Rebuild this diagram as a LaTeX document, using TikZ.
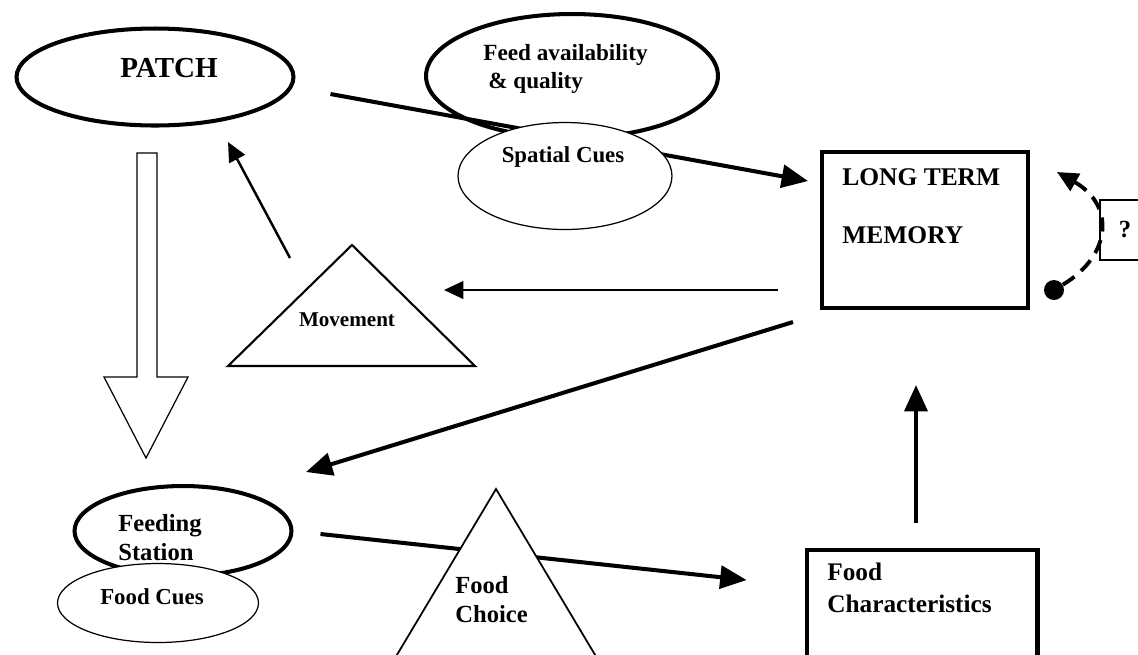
\documentclass[tikz,border=0pt]{standalone}
\usepackage{fontspec}
\setmainfont{Liberation Serif}
\usetikzlibrary{arrows.meta, positioning, calc, shapes.geometric}

\tikzset{
  thickline/.style={line width=2.3pt},
  thinline/.style={line width=0.7pt},
  bigarrow/.style={line width=2.3pt, -{Triangle[length=15pt, width=13pt]}},
  smallarrow/.style={line width=1.4pt, -{Triangle[length=11pt, width=10pt]}},
  lbl/.style={font=\bfseries\fontsize{14}{16.5}\selectfont, inner sep=0pt, align=left},
  oval/.style={ellipse, draw, inner sep=0pt, outer sep=0pt},
  box/.style={rectangle, draw, inner sep=0pt, outer sep=0pt},
}

\begin{document}
\begin{tikzpicture}[x=0.02cm, y=-0.02cm, >=Stealth]
  \useasboundingbox (0,0) rectangle (1138,654);

  % memory
  \node[box, line width=2.8pt, minimum width=4.12cm, minimum height=3.12cm] (ltm) at (925,230) {};
  \node[lbl, font=\bfseries\fontsize{14.5}{17}\selectfont, anchor=west] (ltmtxt) at (842,177) {LONG TERM};
  \node[lbl, font=\bfseries\fontsize{14.5}{17}\selectfont, anchor=west] (memtxt) at (842,235) {MEMORY};
  \node[box, thinline, minimum width=1cm, minimum height=1.2cm, lbl] (qbox) at (1125,230) {?};
  \node[circle, fill, inner sep=0pt, minimum size=0.4cm] (qdot) at (1054,290) {};
  \coordinate (qtip) at (1057,172);
  \draw[line width=2.2pt, dash pattern=on 8pt off 5pt, -{Triangle[length=12pt, width=11pt]}]
    (qdot) .. controls (1112,255) and (1115,205) .. (qtip);

  % patch and what it offers
  \node[oval, thickline, minimum width=5.54cm, minimum height=1.94cm] (patch) at (155,77) {};
  \node[lbl, font=\bfseries\fontsize{16.5}{20}\selectfont] (patchtxt) at (169,68) {PATCH};
  \node[oval, thickline, minimum width=5.84cm, minimum height=2.48cm] (feed) at (572,76) {};
  \node[lbl, font=\bfseries\fontsize{13.2}{16}\selectfont, anchor=west] (feedtxt) at (483,69)
    {Feed availability\\\hspace*{0.1cm}\& quality};
  \draw[bigarrow] ([shift={(37,17)}]patch.east) -- ([shift={(-14,-49)}]ltm.west);
  \node[oval, thinline, fill=white, minimum width=4.28cm, minimum height=2.14cm] (spatial) at (565,176) {};
  \node[lbl, font=\bfseries\fontsize{13}{16}\selectfont] (spatialtxt) at (563,157) {Spatial Cues};

  % movement
  \draw[thinline, line width=1.2pt] (352,245) -- (475,366) -- (228,366) -- cycle;
  \node[lbl, font=\bfseries\fontsize{12}{14}\selectfont] (move) at (347,320) {Movement};
  \draw[smallarrow] ([shift={(-44,60)}]ltm.west) -- ([shift={(97,-30)}]move.center);
  \draw[smallarrow] ([shift={(-57,-62)}]move.center) -- ([shift={(73,65)}]patch.center);

  % hollow arrow down to the station
  \draw[thinline, fill=white] (137,153) -- (157,153) -- (157,377) -- (188,377)
    -- (146,458) -- (104,377) -- (137,377) -- cycle;

  % feeding station
  \node[oval, thickline, fill=white, minimum width=4.34cm, minimum height=1.8cm] (station) at (183,531) {};
  \node[lbl, anchor=west] (stationtxt) at (118,538) {Feeding\\Station};
  \node[oval, thinline, fill=white, minimum width=4.02cm, minimum height=1.58cm] (cues) at (158,603) {};
  \node[lbl, font=\bfseries\fontsize{13}{16}\selectfont] (cuestxt) at (152,597) {Food Cues};
  \draw[bigarrow] ([shift={(-29,92)}]ltm.west) -- ([shift={(123,-59)}]station.center);

  % food choice and characteristics
  \node[box, line width=2.3pt, minimum width=4.62cm, minimum height=2.9cm] (fchar) at (922,622) {};
  \draw[bigarrow] ([shift={(29,3)}]station.east) -- ([shift={(-60,-42)}]fchar.west);
  \draw[thinline, line width=1pt, fill=white] (496,489) -- (622,700) -- (370,700) -- cycle;
  \node[lbl, anchor=west] (choicetxt) at (455,600) {Food\\Choice};
  \node[lbl, font=\bfseries\fontsize{14.4}{18}\selectfont, anchor=west] (fchartxt) at (827,588) {Food\\Characteristics};
  \draw[bigarrow] ([shift={(-6,-27)}]fchar.north) -- ([shift={(-9,77)}]ltm.south);
\end{tikzpicture}
\end{document}
